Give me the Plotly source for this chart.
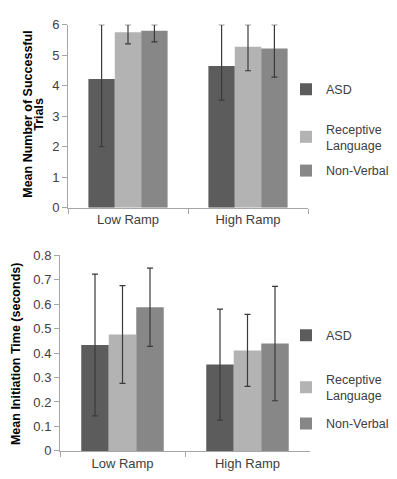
import plotly.graph_objects as go

categories = ["Low Ramp", "High Ramp"]
series_names = ["ASD", "Receptive<br>Language", "Non-Verbal"]
series_colors = ["#5c5c5c", "#b3b3b3", "#878787"]

# Top chart: Mean number of successful trials
trials_asd = [4.22, 4.65]
trials_asd_plus = [1.78, 1.35]
trials_asd_minus = [2.22, 1.12]
trials_rec = [5.75, 5.28]
trials_rec_plus = [0.25, 0.72]
trials_rec_minus = [0.38, 0.79]
trials_nv = [5.80, 5.22]
trials_nv_plus = [0.20, 0.78]
trials_nv_minus = [0.36, 0.94]

# Bottom chart: Mean initiation time (seconds)
time_asd = [0.433, 0.353]
time_asd_err = [0.29, 0.227]
time_rec = [0.476, 0.411]
time_rec_err = [0.20, 0.147]
time_nv = [0.587, 0.439]
time_nv_err = [0.16, 0.234]

W, H = 397, 479
FONT = "Liberation Sans, Arial, sans-serif"
TXT = "#404040"
AXC = "#a6a6a6"

def px_x(p):
    return p / W

def px_y(p):
    return 1 - p / H

fig = go.Figure()

err_style = dict(color="#3a3a3a", thickness=1.2, width=3)

top = [
    (trials_asd, trials_asd_plus, trials_asd_minus),
    (trials_rec, trials_rec_plus, trials_rec_minus),
    (trials_nv, trials_nv_plus, trials_nv_minus),
]
top_legends = ["legend", "legend2", "legend3"]
for i, (vals, ep, em) in enumerate(top):
    fig.add_trace(go.Bar(
        x=categories, y=vals, name=series_names[i], showlegend=True,
        marker=dict(color=series_colors[i], line=dict(width=0)),
        error_y=dict(type="data", symmetric=False, array=ep, arrayminus=em, **err_style),
        xaxis="x", yaxis="y", legend=top_legends[i], offsetgroup=str(i),
    ))

bottom = [
    (time_asd, time_asd_err),
    (time_rec, time_rec_err),
    (time_nv, time_nv_err),
]
bot_legends = ["legend4", "legend5", "legend6"]
for i, (vals, e) in enumerate(bottom):
    fig.add_trace(go.Bar(
        x=categories, y=vals, name=series_names[i], showlegend=True,
        marker=dict(color=series_colors[i], line=dict(width=0)),
        error_y=dict(type="data", array=e, **err_style),
        xaxis="x2", yaxis="y2", legend=bot_legends[i], offsetgroup=str(i),
    ))

axis_common = dict(
    showline=True, linecolor=AXC, linewidth=1, ticks="outside", tickcolor=AXC,
    ticklen=5, showgrid=False, zeroline=False,
    tickfont=dict(family=FONT, size=13, color=TXT),
)

leg_common = dict(
    font=dict(family=FONT, size=12.5, color=TXT), bgcolor="rgba(0,0,0,0)",
    xanchor="left", yanchor="middle", borderwidth=0, itemwidth=30,
)
LX = px_x(278)

title_font = dict(family=FONT, size=12.5, color="#000000")

layout = dict(
    width=W, height=H, margin=dict(l=0, r=0, t=0, b=0),
    paper_bgcolor="white", plot_bgcolor="white", showlegend=True,
    barmode="group", bargap=0.34, bargroupgap=0,
    xaxis=dict(domain=[px_x(60), px_x(300)], anchor="y", type="category",
               tickson="boundaries", **axis_common),
    yaxis=dict(domain=[px_y(199), px_y(10)], anchor="x", range=[0, 6], dtick=1,
               **axis_common),
    xaxis2=dict(domain=[px_x(52), px_x(302)], anchor="y2", type="category",
                tickson="boundaries", **axis_common),
    yaxis2=dict(domain=[px_y(450), px_y(248)], anchor="x2", range=[0, 0.8], dtick=0.1,
                tickformat=".1~f", **axis_common),
    legend=dict(x=LX, y=px_y(77), **leg_common),
    legend2=dict(x=LX, y=px_y(126), **leg_common),
    legend3=dict(x=LX, y=px_y(161), **leg_common),
    legend4=dict(x=LX, y=px_y(331), **leg_common),
    legend5=dict(x=LX, y=px_y(384.5), **leg_common),
    legend6=dict(x=LX, y=px_y(422), **leg_common),
    annotations=[
        dict(text="<b>Mean Number of Successful</b>", x=px_x(20), y=px_y(103),
             xref="paper", yref="paper", xanchor="center", yanchor="middle",
             textangle=-90, showarrow=False, font=title_font),
        dict(text="<b>Trials</b>", x=px_x(31), y=px_y(103),
             xref="paper", yref="paper", xanchor="center", yanchor="middle",
             textangle=-90, showarrow=False, font=title_font),
        dict(text="<b>Mean Initiation Time (seconds)</b>", x=px_x(8), y=px_y(350),
             xref="paper", yref="paper", xanchor="center", yanchor="middle",
             textangle=-90, showarrow=False, font=title_font),
    ],
)
fig.update_layout(**layout)

fig.write_html("out.html")
